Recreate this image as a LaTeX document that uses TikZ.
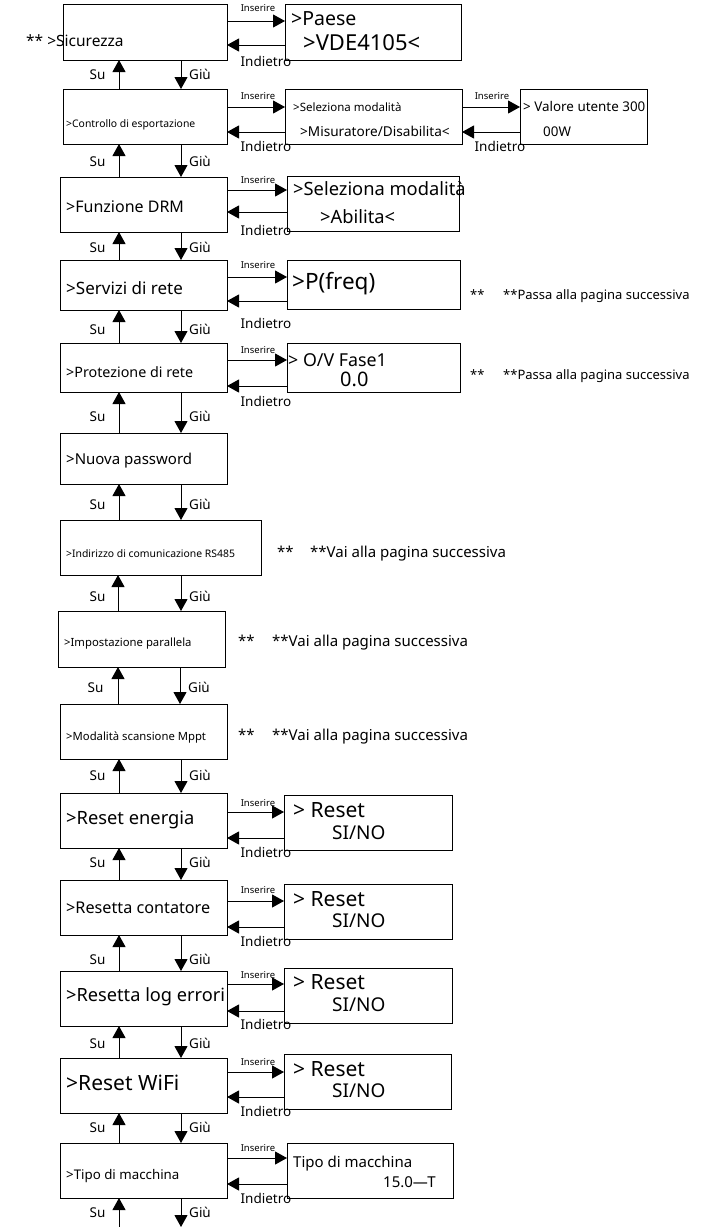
\documentclass[tikz,border=0pt]{standalone}
\usepackage{fontspec}
\setmainfont{Noto Sans}
\usetikzlibrary{arrows.meta}
\newcommand{\fsz}[1]{\fontsize{#1}{#1}\selectfont}

\begin{document}
\begin{tikzpicture}[
    x=1pt, y=-1pt,
    box/.style={
        draw,
        line width=1pt,
        inner sep=0pt,
        outer sep=0pt
    },
    txt/.style={anchor=mid west, inner sep=0pt, yshift=-2pt},
    lab/.style={anchor=mid, inner sep=0pt, yshift=-2pt, font=\fsz{13.5}},
    ins/.style={anchor=mid, inner sep=0pt, yshift=-1pt, font=\fsz{9.5}},
    arr/.style={draw, line width=1pt, -{Triangle[length=12pt,width=13pt]}}
]
\useasboundingbox (0,0) rectangle (710,1227);

% menu column
\node[box, minimum width=164, minimum height=56] (m1) at (145,32) {};
\node[box, minimum width=164, minimum height=55] (m2) at (145,116.5) {};
\node[box, minimum width=167, minimum height=55] (m3) at (143.5,204.5) {};
\node[box, minimum width=167, minimum height=50] (m4) at (143.5,285) {};
\node[box, minimum width=167, minimum height=49] (m5) at (143.5,367.5) {};
\node[box, minimum width=167, minimum height=51] (m6) at (143.5,458.5) {};
\node[box, minimum width=201, minimum height=55] (m7) at (160.5,547.5) {};
\node[box, minimum width=167, minimum height=56] (m8) at (141.5,639) {};
\node[box, minimum width=167, minimum height=55] (m9) at (143.5,731.5) {};
\node[box, minimum width=167, minimum height=55] (m10) at (143.5,820.5) {};
\node[box, minimum width=167, minimum height=55] (m11) at (143.5,907.5) {};
\node[box, minimum width=167, minimum height=55] (m12) at (143.5,998.5) {};
\node[box, minimum width=167, minimum height=55] (m13) at (143.5,1085.5) {};
\node[box, minimum width=167, minimum height=55] (m14) at (143.5,1170.5) {};

\node[txt, font=\fsz{15.5}] (t1) at (26,42) {** >Sicurezza};
\node[txt, font=\fsz{10.4}] (t2) at (66,123) {>Controllo di esportazione};
\node[txt, font=\fsz{16}] (t3) at (66,208) {>Funzione DRM};
\node[txt, font=\fsz{17}] (t4) at (66,290) {>Servizi di rete};
\node[txt, font=\fsz{14.3}] (t5) at (66,373) {>Protezione di rete};
\node[txt, font=\fsz{15}] (t6) at (66,460) {>Nuova password};
\node[txt, font=\fsz{10.4}] (t7) at (66,553) {>Indirizzo di comunicazione RS485};
\node[txt, font=\fsz{11.3}] (t8) at (64,642) {>Impostazione parallela};
\node[txt, font=\fsz{11.3}] (t9) at (66,736) {>Modalità scansione Mppt};
\node[txt, font=\fsz{18.3}] (t10) at (66,820) {>Reset energia};
\node[txt, font=\fsz{16.2}] (t11) at (66,909) {>Resetta contatore};
\node[txt, font=\fsz{18.2}] (t12) at (66,997) {>Resetta log errori};
\node[txt, font=\fsz{21}] (t13) at (66,1086) {>Reset WiFi};
\node[txt, font=\fsz{13.3}] (t14) at (66,1175) {>Tipo di macchina};

% sub screens
\node[box, minimum width=176, minimum height=56] (s1) at (373,32) {};
\node[box, minimum width=177, minimum height=55] (s2) at (373.5,116.5) {};
\node[box, minimum width=127, minimum height=55] (u2) at (583.5,116.5) {};
\node[box, minimum width=172, minimum height=55] (s3) at (373,203.5) {};
\node[box, minimum width=173, minimum height=49] (s4) at (373.5,284.5) {};
\node[box, minimum width=173, minimum height=49] (s5) at (373.5,367.5) {};
\node[box, minimum width=168, minimum height=55] (s10) at (368,822.5) {};
\node[box, minimum width=168, minimum height=55] (s11) at (368,911.5) {};
\node[box, minimum width=168, minimum height=55] (s12) at (368,995.5) {};
\node[box, minimum width=167, minimum height=55] (s13) at (367.5,1081.5) {};
\node[box, minimum width=166, minimum height=55] (s14) at (370,1170.5) {};

\node[txt, font=\fsz{19.5}] (r1a) at (291,21) {>Paese};
\node[txt, font=\fsz{22}] (r1b) at (303,46) {>VDE4105<};
\node[txt, font=\fsz{11.5}] (r2a) at (293,107) {>Seleziona modalità};
\node[txt, font=\fsz{13.6}] (r2b) at (300,132) {>Misuratore/Disabilita<};
\node[txt, font=\fsz{13.4}] (r2c) at (523,107) {> Valore utente 300};
\node[txt, font=\fsz{13.4}] (r2d) at (543,132) {00W};
\node[txt, font=\fsz{18.3}] (r3a) at (293,191) {>Seleziona modalità};
\node[txt, font=\fsz{18.3}] (r3b) at (320,219) {>Abilita<};
\node[txt, font=\fsz{22.5}] (r4) at (292,285) {>P(freq)};
\node[txt, font=\fsz{17.8}] (r5a) at (288,362) {> O/V Fase1};
\node[txt, font=\fsz{20}] (r5b) at (340,382) {0.0};
\node[txt, font=\fsz{21}] (r10a) at (293,813) {> Reset};
\node[txt, font=\fsz{19}] (r10b) at (332,835) {SI/NO};
\node[txt, font=\fsz{21}] (r11a) at (293,902) {> Reset};
\node[txt, font=\fsz{19}] (r11b) at (332,923) {SI/NO};
\node[txt, font=\fsz{21}] (r12a) at (293,985) {> Reset};
\node[txt, font=\fsz{19}] (r12b) at (332,1007) {SI/NO};
\node[txt, font=\fsz{21}] (r13a) at (293,1072) {> Reset};
\node[txt, font=\fsz{19}] (r13b) at (332,1093) {SI/NO};
\node[txt, font=\fsz{15}] (r14a) at (293,1163) {Tipo di macchina};
\node[txt, font=\fsz{15}] (r14b) at (383,1183) {15.0—T};

\node[txt, font=\fsz{13}] (n4a) at (470,295) {**};
\node[txt, font=\fsz{13}] (n4b) at (503,295) {**Passa alla pagina successiva};
\node[txt, font=\fsz{13}] (n5a) at (470,375) {**};
\node[txt, font=\fsz{13}] (n5b) at (503,375) {**Passa alla pagina successiva};
\node[txt, font=\fsz{15}] (n7a) at (277,553) {**};
\node[txt, font=\fsz{15}] (n7b) at (310,553) {**Vai alla pagina successiva};
\node[txt, font=\fsz{15}] (n8a) at (238,642) {**};
\node[txt, font=\fsz{15}] (n8b) at (272,642) {**Vai alla pagina successiva};
\node[txt, font=\fsz{15}] (n9a) at (238,736) {**};
\node[txt, font=\fsz{15}] (n9b) at (272,736) {**Vai alla pagina successiva};

% Inserire / Indietro
\draw[arr] (m1.east |- 0,21) -- (s1.west |- 0,21);
\draw[arr] (s1.west |- 0,45) -- (m1.east |- 0,45);
\draw[arr] (m2.east |- 0,107) -- (s2.west |- 0,107);
\draw[arr] (s2.west |- 0,132) -- (m2.east |- 0,132);
\draw[arr] (s2.east |- 0,107) -- (u2.west |- 0,107);
\draw[arr] (u2.west |- 0,132) -- (s2.east |- 0,132);
\draw[arr] (m3.east |- 0,190) -- (s3.west |- 0,190);
\draw[arr] (s3.west |- 0,212) -- (m3.east |- 0,212);
\draw[arr] (m4.east |- 0,277) -- (s4.west |- 0,277);
\draw[arr] (s4.west |- 0,301) -- (m4.east |- 0,301);
\draw[arr] (m5.east |- 0,360) -- (s5.west |- 0,360);
\draw[arr] (s5.west |- 0,386) -- (m5.east |- 0,386);
\draw[arr] (m10.east |- 0,812) -- (s10.west |- 0,812);
\draw[arr] (s10.west |- 0,838) -- (m10.east |- 0,838);
\draw[arr] (m11.east |- 0,901) -- (s11.west |- 0,901);
\draw[arr] (s11.west |- 0,927) -- (m11.east |- 0,927);
\draw[arr] (m12.east |- 0,984) -- (s12.west |- 0,984);
\draw[arr] (s12.west |- 0,1011) -- (m12.east |- 0,1011);
\draw[arr] (m13.east |- 0,1072) -- (s13.west |- 0,1072);
\draw[arr] (s13.west |- 0,1097) -- (m13.east |- 0,1097);
\draw[arr] (m14.east |- 0,1158) -- (s14.west |- 0,1158);
\draw[arr] (s14.west |- 0,1184) -- (m14.east |- 0,1184);

\node[ins] (i1) at (258,8) {Inserire};
\node[ins] (i2) at (258,96) {Inserire};
\node[ins] (i2b) at (492,96) {Inserire};
\node[ins] (i3) at (258,180) {Inserire};
\node[ins] (i4) at (258,265) {Inserire};
\node[ins] (i5) at (258,350) {Inserire};
\node[ins] (i10) at (258,803) {Inserire};
\node[ins] (i11) at (258,890) {Inserire};
\node[ins] (i12) at (258,975) {Inserire};
\node[ins] (i13) at (258,1062) {Inserire};
\node[ins] (i14) at (258,1148) {Inserire};

\node[lab] (b1) at (266,62) {Indietro};
\node[lab] (b2) at (266,147) {Indietro};
\node[lab] (b2b) at (500,147) {Indietro};
\node[lab] (b3) at (266,231) {Indietro};
\node[lab] (b4) at (266,324) {Indietro};
\node[lab] (b5) at (266,402) {Indietro};
\node[lab] (b10) at (266,853) {Indietro};
\node[lab] (b11) at (266,942) {Indietro};
\node[lab] (b12) at (266,1025) {Indietro};
\node[lab] (b13) at (266,1112) {Indietro};
\node[lab] (b14) at (266,1199) {Indietro};

% Su / Giu
\draw[arr] (m2.north -| 119,0) -- (m1.south -| 119,0);
\draw[arr] (m1.south -| 181,0) -- (m2.north -| 181,0);
\draw[arr] (m3.north -| 119,0) -- (m2.south -| 119,0);
\draw[arr] (m2.south -| 181,0) -- (m3.north -| 181,0);
\draw[arr] (m4.north -| 119,0) -- (m3.south -| 119,0);
\draw[arr] (m3.south -| 181,0) -- (m4.north -| 181,0);
\draw[arr] (m5.north -| 119,0) -- (m4.south -| 119,0);
\draw[arr] (m4.south -| 181,0) -- (m5.north -| 181,0);
\draw[arr] (m6.north -| 119,0) -- (m5.south -| 119,0);
\draw[arr] (m5.south -| 181,0) -- (m6.north -| 181,0);
\draw[arr] (m7.north -| 119,0) -- (m6.south -| 119,0);
\draw[arr] (m6.south -| 181,0) -- (m7.north -| 181,0);
\draw[arr] (m8.north -| 118,0) -- (m7.south -| 118,0);
\draw[arr] (m7.south -| 181,0) -- (m8.north -| 181,0);
\draw[arr] (m9.north -| 118,0) -- (m8.south -| 118,0);
\draw[arr] (m8.south -| 180,0) -- (m9.north -| 180,0);
\draw[arr] (m10.north -| 119,0) -- (m9.south -| 119,0);
\draw[arr] (m9.south -| 181,0) -- (m10.north -| 181,0);
\draw[arr] (m11.north -| 119,0) -- (m10.south -| 119,0);
\draw[arr] (m10.south -| 181,0) -- (m11.north -| 181,0);
\draw[arr] (m12.north -| 119,0) -- (m11.south -| 119,0);
\draw[arr] (m11.south -| 181,0) -- (m12.north -| 181,0);
\draw[arr] (m13.north -| 119,0) -- (m12.south -| 119,0);
\draw[arr] (m12.south -| 181,0) -- (m13.north -| 181,0);
\draw[arr] (m14.north -| 119,0) -- (m13.south -| 119,0);
\draw[arr] (m13.south -| 181,0) -- (m14.north -| 181,0);
\coordinate (upend) at (119,1227);
\coordinate (downend) at (181,1227);
\draw[arr] (upend) -- (m14.south -| upend);
\draw[arr] (m14.south -| downend) -- (downend);

\node[lab] (su1) at (97.5,75) {Su};
\node[lab] (su2) at (97.5,162) {Su};
\node[lab] (su3) at (97.5,248) {Su};
\node[lab] (su4) at (97.5,330) {Su};
\node[lab] (su5) at (97.5,417) {Su};
\node[lab] (su6) at (97.5,505) {Su};
\node[lab] (su7) at (97.5,597) {Su};
\node[lab] (su8) at (95.5,688) {Su};
\node[lab] (su9) at (97.5,776) {Su};
\node[lab] (su10) at (97.5,863) {Su};
\node[lab] (su11) at (97.5,960) {Su};
\node[lab] (su12) at (97.5,1044) {Su};
\node[lab] (su13) at (97.5,1128) {Su};
\node[lab] (su14) at (97.5,1213) {Su};

\node[lab] (gi1) at (200,75) {Giù};
\node[lab] (gi2) at (200,162) {Giù};
\node[lab] (gi3) at (200,248) {Giù};
\node[lab] (gi4) at (200,330) {Giù};
\node[lab] (gi5) at (200,417) {Giù};
\node[lab] (gi6) at (200,505) {Giù};
\node[lab] (gi7) at (200,597) {Giù};
\node[lab] (gi8) at (199,688) {Giù};
\node[lab] (gi9) at (200,776) {Giù};
\node[lab] (gi10) at (200,863) {Giù};
\node[lab] (gi11) at (200,960) {Giù};
\node[lab] (gi12) at (200,1044) {Giù};
\node[lab] (gi13) at (200,1128) {Giù};
\node[lab] (gi14) at (200,1213) {Giù};

\end{tikzpicture}
\end{document}
